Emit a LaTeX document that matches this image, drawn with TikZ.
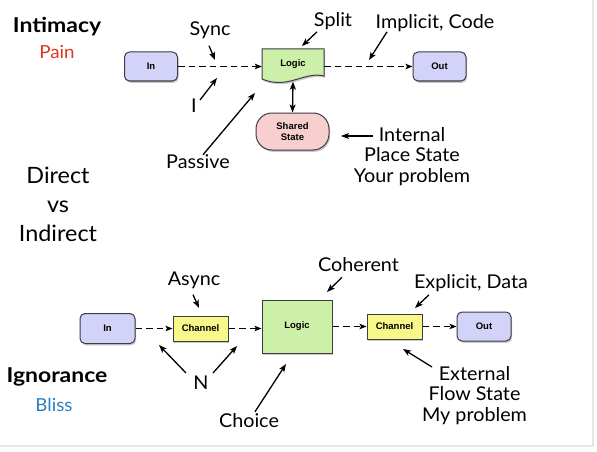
\documentclass[tikz,border=0pt]{standalone}
\usepackage{fontspec}
\setmainfont{Lato}
\setsansfont{Liberation Sans}
\newfontfamily\lblfont[FakeStretch=1.04]{Lato}
\newfontfamily\headfont[FakeStretch=1.12]{Lato}
\usetikzlibrary{arrows.meta,shadows}
\definecolor{ioblue}{HTML}{D3D3FA}
\definecolor{logicgreen}{HTML}{CDF0A8}
\definecolor{sharedpink}{HTML}{F8CFCF}
\definecolor{chanyellow}{HTML}{F7F78A}
\definecolor{painred}{HTML}{E2341F}
\definecolor{blissblue}{HTML}{2A80C2}
\definecolor{edgegray}{HTML}{E3E8E8}
\definecolor{boxline}{HTML}{3C3C46}
\tikzset{
  lbl/.style={font=\lblfont\fontsize{19}{20.5}\selectfont, inner sep=0pt, align=center},
  biglbl/.style={font=\lblfont\fontsize{22.5}{29}\selectfont, inner sep=0pt, align=center},
  head/.style={font=\headfont\bfseries\fontsize{20.5}{24}\selectfont, inner sep=0pt},
  sub/.style={font=\lblfont\fontsize{18}{20}\selectfont, inner sep=0pt},
  boxfont/.style={font=\sffamily\bfseries\fontsize{9.5}{11.5}\selectfont},
  boxshadow/.style={drop shadow={shadow xshift=1.2pt,shadow yshift=-1.8pt,opacity=0.35,fill=black!60}},
  box/.style={draw=boxline, line width=1pt, boxfont, inner sep=0pt, align=center, boxshadow},
  io/.style={box, fill=ioblue, rounded corners=5pt, minimum width=53pt, minimum height=29pt},
  chan/.style={box, fill=chanyellow, minimum width=55pt, minimum height=25pt},
  logicbox/.style={box, fill=logicgreen, minimum width=70pt, minimum height=53pt},
  sharedbox/.style={box, fill=sharedpink, rounded corners=16pt, minimum width=73pt, minimum height=37pt},
  ptr/.style={-{Stealth[length=8pt,width=6pt,inset=2pt]}, line width=1.3pt},
  dbl/.style={{Stealth[length=8pt,width=6pt,inset=2pt]}-{Stealth[length=8pt,width=6pt,inset=2pt]}, line width=1.3pt},
  flow/.style={-{Stealth[length=7pt,width=5.5pt,inset=1.5pt]}, dash pattern=on 6.5pt off 4pt, line width=1.1pt},
}
\begin{document}
\begin{tikzpicture}[x=1pt,y=-1pt]
\useasboundingbox (0,0) rectangle (597,452);
\fill[white] (0,0) rectangle (597,452);
\draw[edgegray, line width=1.2pt] (593,0) -- (593,446) -- (0,446);

% ---------- top row ----------
\node[io] (inA) at (151,66.5) {In};
\path[fill=logicgreen, draw=boxline, line width=1pt, boxshadow]
  (262,49) -- (324,49) -- (324,76) .. controls (304,71) and (288,90) .. (262,79) -- cycle;
\node[inner sep=0pt, minimum width=62pt, minimum height=30pt, boxfont] (logicA) at (293,64) {Logic};
\node[io] (outA) at (439.5,66.5) {Out};
\node[sharedbox] (shared) at (292.5,131.5) {Shared\\State};

\draw[flow] (inA.east) -- (inA.east -| logicA.west);
\draw[flow] (logicA.east |- outA) -- (outA.west);
\draw[dbl] ([yshift=-2.5pt]logicA.south) -- (shared.north);

\node[head] (intimacy) at (57,27) {Intimacy};
\node[sub, text=painred] (pain) at (57,52) {Pain};
\node[lbl] (sync) at (210,30.5) {Sync};
\node[lbl] (iLbl) at (194,106) {I};
\node[lbl] (passive) at (198,162) {Passive};
\node[lbl] (split) at (333,21) {Split};
\node[lbl] (implicit) at (435,23) {Implicit, Code};
\node[lbl, anchor=north] (internal) at (412,127) {Internal\\Place State\\Your problem};
\node[biglbl, anchor=north] (direct) at (58,167) {Direct\\vs\\Indirect};

\coordinate (syncT) at (215,60);
\coordinate (iT) at (217,78);
\coordinate (passiveT) at (255,93);
\coordinate (splitT) at (302,46);
\coordinate (implicitT) at (369,60);
\coordinate (sharedT) at (341,136);

\draw[ptr] ([shift={(-1,6.5)}]sync.south) -- (syncT);
\draw[ptr] ([shift={(6,1)}]iLbl.north) -- (iT);
\draw[ptr] ([shift={(5,0)}]passive.north) -- (passiveT);
\draw[ptr] ([shift={(-16,2)}]split.south) -- (splitT);
\draw[ptr] ([shift={(-48,0)}]implicit.south) -- (implicitT);
\draw[ptr] ([shift={(-39,9)}]internal.north) -- (sharedT);

% ---------- bottom row ----------
\node[io, minimum width=55pt, minimum height=30pt] (inB) at (107.5,328.5) {In};
\node[chan] (chanA) at (200.5,328.5) {Channel};
\node[logicbox] (logicB) at (297,326.5) {Logic};
\node[chan] (chanB) at (394.5,326.5) {Channel};
\node[io, minimum width=54pt] (outB) at (484,326.5) {Out};

\draw[flow] (inB.east) -- (inB.east -| chanA.west);
\draw[flow] (chanA.east) -- (chanA.east -| logicB.west);
\draw[flow] (logicB.east |- chanB) -- (chanB.west);
\draw[flow] (chanB.east) -- (outB.west);

\node[lbl] (async) at (194,280) {Async};
\node[lbl] (nLbl) at (201,383) {N};
\node[head] (ignorance) at (57,377) {Ignorance};
\node[sub, text=blissblue] (bliss) at (54,405) {Bliss};
\node[lbl] (choice) at (249,421) {Choice};
\node[lbl] (coherent) at (358.5,265) {Coherent};
\node[lbl] (explicit) at (471,283) {Explicit, Data};
\node[lbl, anchor=north] (external) at (474.5,366) {External\\Flow State\\My problem};

\coordinate (asyncT) at (199,308);
\coordinate (nLT) at (159,345);
\coordinate (nRT) at (237,346);
\coordinate (choiceT) at (286,364);
\coordinate (coherentT) at (327,292);
\coordinate (explicitT) at (415,308);
\coordinate (externalT) at (403,349);

\draw[ptr] ([shift={(-1,6)}]async.south) -- (asyncT);
\draw[ptr] ([shift={(-15,-3)}]nLbl.north) -- (nLT);
\draw[ptr] ([shift={(12,-3)}]nLbl.north) -- (nRT);
\draw[ptr] ([shift={(6,-2)}]choice.north) -- (choiceT);
\draw[ptr] ([shift={(-16.5,5)}]coherent.south) -- (coherentT);
\draw[ptr] ([shift={(-42,3)}]explicit.south) -- (explicitT);
\draw[ptr] ([shift={(-42.5,1)}]external.north) -- (externalT);
\end{tikzpicture}
\end{document}
